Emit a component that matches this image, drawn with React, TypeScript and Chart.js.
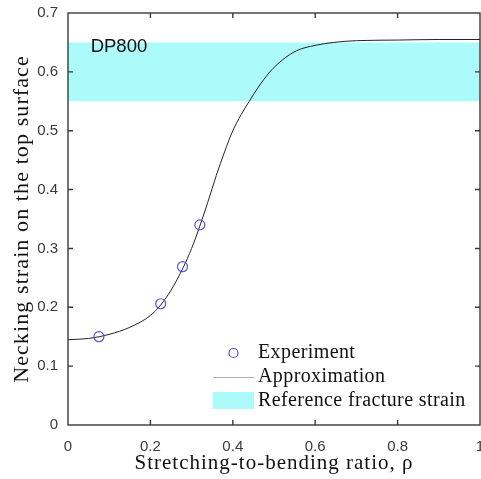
import React, { useEffect, useRef } from "react";
import { Chart, registerables } from "chart.js";

Chart.register(...registerables);

// Experimental points (stretching-to-bending ratio, necking strain)
const expX = [0.075, 0.225, 0.278, 0.32];
const expY = [0.15, 0.206, 0.269, 0.34];

// Approximation curve
const curveX = [0, 0.05, 0.1, 0.15, 0.2, 0.225, 0.25, 0.28, 0.3, 0.32, 0.34, 0.36, 0.38, 0.4, 0.42, 0.44, 0.46, 0.49, 0.52, 0.555, 0.6, 0.645, 0.7, 0.8, 0.9, 1.0];
const curveY = [0.145, 0.147, 0.154, 0.166, 0.186, 0.204, 0.229, 0.268, 0.3, 0.338, 0.38, 0.424, 0.464, 0.5, 0.527, 0.55, 0.572, 0.6, 0.62, 0.636, 0.645, 0.65, 0.653, 0.654, 0.655, 0.655];

// Reference fracture strain band
const bandX = [0, 1];
const bandLow = 0.55;
const bandHigh = 0.65;

const xTicks = [0, 0.2, 0.4, 0.6, 0.8, 1];
const yTicks = [0, 0.1, 0.2, 0.3, 0.4, 0.5, 0.6, 0.7];

const legendLabels = ["Experiment", "Approximation", "Reference fracture strain"];
const annotationText = "DP800";
const xTitle = "Stretching-to-bending ratio, ρ";
const yTitle = "Necking strain on the top surface";

const BLUE = "rgb(85,85,225)";
const CYAN = "rgb(172,250,250)";
const LINE = "#222";
const AXIS = "#3a3a3a";
const SERIF = "'Liberation Serif', 'Times New Roman', serif";
const SANS = "'Liberation Sans', Arial, sans-serif";

function spacedTitle(s: any, spacing: string) {
  if (s._spaced) return;
  s._spaced = true;
  const orig = s.drawTitle;
  s.drawTitle = function () {
    const ctx = this.ctx;
    const prev = ctx.letterSpacing;
    ctx.letterSpacing = spacing;
    orig.call(this);
    ctx.letterSpacing = prev || "0px";
  };
}

export default function App() {
  const ref = useRef<HTMLCanvasElement | null>(null);
  useEffect(() => {
    document.body.style.margin = "0";
    const canvas = ref.current!;
    const framePlugin = {
      id: "frame",
      afterDraw(chart: any) {
        const { ctx, chartArea: a, scales } = chart;
        const xs = scales.x, ys = scales.y;
        ctx.save();
        ctx.strokeStyle = AXIS;
        ctx.lineWidth = 1.4;
        ctx.strokeRect(a.left, a.top, a.right - a.left, a.bottom - a.top);
        const tl = 5;
        ctx.beginPath();
        xTicks.forEach((v) => {
          const px = xs.getPixelForValue(v);
          if (Math.abs(px - a.left) < 1 || Math.abs(px - a.right) < 1) return;
          ctx.moveTo(px, a.bottom); ctx.lineTo(px, a.bottom - tl);
          ctx.moveTo(px, a.top); ctx.lineTo(px, a.top + tl);
        });
        yTicks.forEach((v) => {
          const py = ys.getPixelForValue(v);
          if (Math.abs(py - a.top) < 1 || Math.abs(py - a.bottom) < 1) return;
          ctx.moveTo(a.left, py); ctx.lineTo(a.left + tl, py);
          ctx.moveTo(a.right, py); ctx.lineTo(a.right - tl, py);
        });
        ctx.stroke();

        // annotation
        ctx.fillStyle = "#111";
        ctx.font = "18.5px " + SANS;
        ctx.textBaseline = "middle";
        ctx.textAlign = "left";
        ctx.fillText(annotationText, xs.getPixelForValue(0.055), ys.getPixelForValue(0.642));

        // legend
        const lx = 213, sw = 41, tx = 258;
        const rows = [353, 377, 401];
        ctx.font = "20px " + SERIF;
        ctx.fillStyle = "#111";
        (ctx as any).letterSpacing = "0.4px";
        legendLabels.forEach((t, i) => ctx.fillText(t, tx, rows[i]));
        (ctx as any).letterSpacing = "0px";
        ctx.strokeStyle = BLUE;
        ctx.lineWidth = 1.2;
        ctx.beginPath();
        ctx.arc(lx + sw / 2, rows[0], 4.5, 0, Math.PI * 2);
        ctx.stroke();
        ctx.strokeStyle = "#999";
        ctx.lineWidth = 0.8;
        ctx.beginPath();
        ctx.moveTo(lx, rows[1] + 0.5); ctx.lineTo(lx + sw, rows[1] + 0.5);
        ctx.stroke();
        ctx.fillStyle = CYAN;
        ctx.fillRect(lx, rows[2] - 9, sw, 17);
        ctx.restore();
      },
    };

    const chart = new Chart(canvas, {
      type: "scatter",
      data: {
        datasets: [
          {
            label: legendLabels[0],
            data: expX.map((x, i) => ({ x, y: expY[i] })),
            pointStyle: "circle",
            pointRadius: 5,
            borderColor: BLUE,
            backgroundColor: "rgba(0,0,0,0)",
            pointBorderWidth: 1.2,
            showLine: false,
          },
          {
            label: legendLabels[1],
            data: curveX.map((x, i) => ({ x, y: curveY[i] })),
            showLine: true,
            borderColor: LINE,
            borderWidth: 1,
            pointRadius: 0,
            cubicInterpolationMode: "monotone",
            fill: false,
          },
          {
            label: legendLabels[2],
            data: bandX.map((x) => ({ x, y: bandHigh })),
            showLine: true,
            borderWidth: 0,
            borderColor: "rgba(0,0,0,0)",
            backgroundColor: CYAN,
            pointRadius: 0,
            fill: { value: bandLow },
          },
        ],
      },
      options: {
        animation: false,
        responsive: false,
        devicePixelRatio: 1,
        layout: { autoPadding: false, padding: { top: 13, right: 1, left: 0, bottom: 0 } },
        plugins: { legend: { display: false }, tooltip: { enabled: false } },
        scales: {
          x: {
            type: "linear",
            min: 0,
            max: 1,
            afterBuildTicks: (s: any) => { s.ticks = xTicks.map((v) => ({ value: v })); },
            afterFit: (s: any) => { s.height = 54; s.paddingRight = 0; s.paddingLeft = 0; spacedTitle(s, "1px"); },
            grid: { display: false, drawTicks: true, tickLength: 8 },
            border: { display: false },
            ticks: { color: AXIS, font: { family: SANS, size: 15 }, padding: 5, maxRotation: 0, callback: (v: any) => String(v) },
            title: {
              display: true,
              text: xTitle,
              color: "#111",
              font: { family: SERIF, size: 21 },
              padding: { top: 0, bottom: 3 },
            },
          },
          y: {
            type: "linear",
            min: 0,
            max: 0.7,
            afterBuildTicks: (s: any) => { s.ticks = yTicks.map((v) => ({ value: v })); },
            afterFit: (s: any) => { s.width = 68; s.paddingTop = 0; s.paddingBottom = 0; spacedTitle(s, "1.1px"); },
            grid: { display: false, drawTicks: true, tickLength: 8 },
            border: { display: false },
            ticks: { color: AXIS, font: { family: SANS, size: 15 }, padding: 2, callback: (v: any) => String(v) },
            title: {
              display: true,
              text: yTitle,
              color: "#111",
              font: { family: SERIF, size: 22 },
              padding: { top: 9, bottom: 0 },
            },
          },
        },
      },
      plugins: [framePlugin],
    } as any);
    return () => chart.destroy();
  }, []);
  return (
    <div style={{ position: "absolute", left: 0, top: 0, width: 481, height: 479 }}>
      <canvas ref={ref} width={481} height={479} />
    </div>
  );
}
